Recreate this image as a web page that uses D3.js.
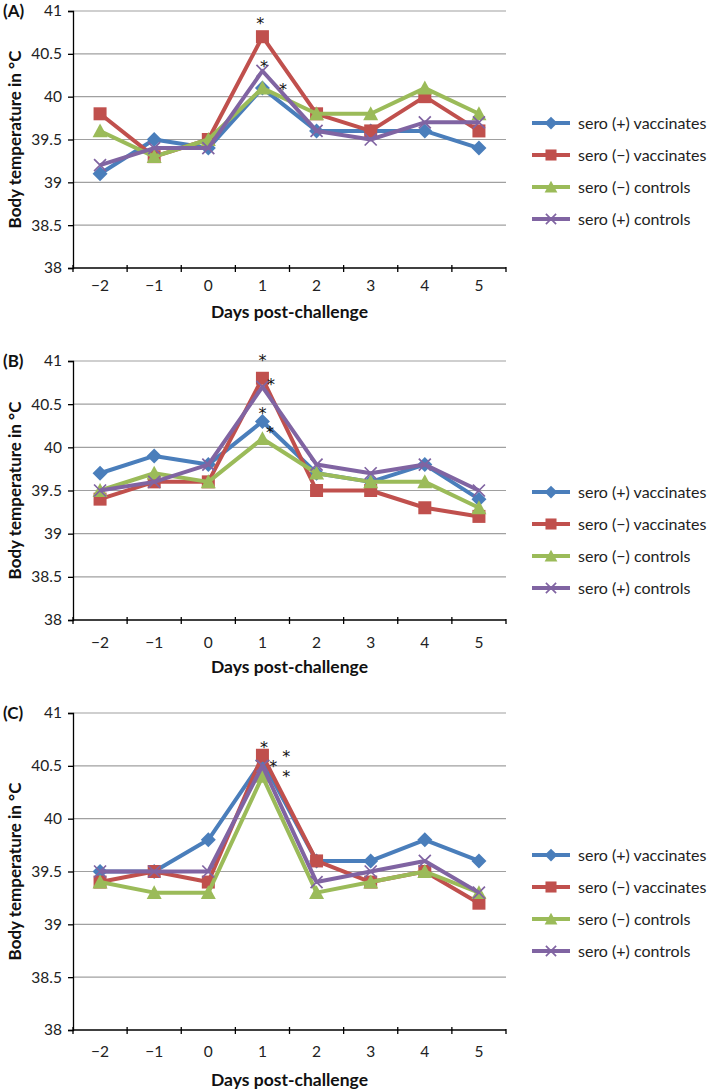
<!DOCTYPE html>
<html>
<head>
<meta charset="utf-8">
<script src="https://cdn.jsdelivr.net/npm/d3@7/dist/d3.min.js"></script>
<style>
  html, body { margin: 0; padding: 0; background: #fff; }
  svg { display: block; font-family: Lato, "Noto Sans", sans-serif; }
</style>
</head>
<body>
<svg id="chart" width="709" height="1091"></svg>
<script>
// ---------- data ----------
const days = [-2, -1, 0, 1, 2, 3, 4, 5];
const dayLabels = ["\u22122", "\u22121", "0", "1", "2", "3", "4", "5"];
const yTicks = [38, 38.5, 39, 39.5, 40, 40.5, 41];
const seriesNames = ["sero (+) vaccinates", "sero (\u2212) vaccinates", "sero (\u2212) controls", "sero (+) controls"];
const seriesColors = ["#4a7ebb", "#c0504d", "#9bbb59", "#8064a2"];
const seriesMarkers = ["diamond", "square", "triangle", "cross"];

// Panel A
const A_seroPosVacc = [39.1, 39.5, 39.4, 40.1, 39.6, 39.6, 39.6, 39.4];
const A_seroNegVacc = [39.8, 39.3, 39.5, 40.7, 39.8, 39.6, 40.0, 39.6];
const A_seroNegCtrl = [39.6, 39.3, 39.5, 40.1, 39.8, 39.8, 40.1, 39.8];
const A_seroPosCtrl = [39.2, 39.4, 39.4, 40.3, 39.6, 39.5, 39.7, 39.7];
const A_asterisks = [[0.96, 40.89], [1.03, 40.39], [1.38, 40.13]];

// Panel B
const B_seroPosVacc = [39.7, 39.9, 39.8, 40.3, 39.7, 39.6, 39.8, 39.4];
const B_seroNegVacc = [39.4, 39.6, 39.6, 40.8, 39.5, 39.5, 39.3, 39.2];
const B_seroNegCtrl = [39.5, 39.7, 39.6, 40.1, 39.7, 39.6, 39.6, 39.3];
const B_seroPosCtrl = [39.5, 39.6, 39.8, 40.7, 39.8, 39.7, 39.8, 39.5];
const B_asterisks = [[1.0, 41.05], [1.16, 40.77], [1.0, 40.43], [1.14, 40.21]];

// Panel C
const C_seroPosVacc = [39.5, 39.5, 39.8, 40.55, 39.6, 39.6, 39.8, 39.6];
const C_seroNegVacc = [39.4, 39.5, 39.4, 40.6, 39.6, 39.4, 39.5, 39.2];
const C_seroNegCtrl = [39.4, 39.3, 39.3, 40.4, 39.3, 39.4, 39.5, 39.3];
const C_seroPosCtrl = [39.5, 39.5, 39.5, 40.5, 39.4, 39.5, 39.6, 39.3];
const C_asterisks = [[1.03, 40.71], [1.44, 40.62], [1.2, 40.53], [1.44, 40.43]];

const panels = [
  { label: "(A)", series: [A_seroPosVacc, A_seroNegVacc, A_seroNegCtrl, A_seroPosCtrl], stars: A_asterisks,
    top: 11, bottom: 268, tickY: 286, titleY: 312, legendY: 123 },
  { label: "(B)", series: [B_seroPosVacc, B_seroNegVacc, B_seroNegCtrl, B_seroPosCtrl], stars: B_asterisks,
    top: 361, bottom: 620, tickY: 643, titleY: 667, legendY: 492 },
  { label: "(C)", series: [C_seroPosVacc, C_seroNegVacc, C_seroNegCtrl, C_seroPosCtrl], stars: C_asterisks,
    top: 713, bottom: 1030, tickY: 1052, titleY: 1080, legendY: 855 }
];

// ---------- drawing ----------
const svg = d3.select("#chart");
const left = 73, right = 506;
const x = d3.scaleLinear().domain([-2.5, 5.5]).range([left, right]);

function drawMarker(g, type, color, cx, cy, scale) {
  const s = scale || 1;
  if (type === "diamond") {
    const r = 7.5 * s;
    g.append("path").attr("d", `M${cx},${cy - r}L${cx + r},${cy}L${cx},${cy + r}L${cx - r},${cy}Z`).attr("fill", color);
  } else if (type === "square") {
    const r = 6.5 * s;
    g.append("rect").attr("x", cx - r).attr("y", cy - r).attr("width", 2 * r).attr("height", 2 * r).attr("fill", color);
  } else if (type === "triangle") {
    const r = 7.5 * s;
    g.append("path").attr("d", `M${cx},${cy - r}L${cx + r},${cy + r * 0.85}L${cx - r},${cy + r * 0.85}Z`).attr("fill", color);
  } else {
    const r = 6 * s;
    g.append("path").attr("d", `M${cx - r},${cy - r}L${cx + r},${cy + r}M${cx - r},${cy + r}L${cx + r},${cy - r}`)
      .attr("stroke", color).attr("stroke-width", 1.7).attr("fill", "none");
  }
}

panels.forEach(p => {
  const y = d3.scaleLinear().domain([38, 41]).range([p.bottom, p.top]);
  const g = svg.append("g");

  // gridlines
  g.selectAll(".grid").data(yTicks.filter(t => t > 38)).enter().append("line")
    .attr("x1", left).attr("x2", right)
    .attr("y1", d => y(d)).attr("y2", d => y(d))
    .attr("stroke", "#a0a0a0").attr("stroke-width", 1.2);

  // y axis
  const yAxis = d3.axisLeft(y).tickValues(yTicks).tickSize(5).tickPadding(6)
    .tickFormat(d => String(d));
  const ya = g.append("g").attr("transform", `translate(${left},0)`).call(yAxis);
  ya.select(".domain").attr("stroke", "#000").attr("stroke-width", 1.3);
  ya.selectAll(".tick line").attr("stroke", "#000").attr("stroke-width", 1.3);
  ya.selectAll(".tick text").attr("font-size", 15.5).attr("font-family", "Lato, sans-serif").attr("fill", "#222");

  // x axis line + boundary ticks
  g.append("line").attr("x1", left).attr("x2", right).attr("y1", p.bottom).attr("y2", p.bottom)
    .attr("stroke", "#000").attr("stroke-width", 1.3);
  const bounds = d3.range(-2.5, 6, 1);
  g.selectAll(".xt").data(bounds).enter().append("line")
    .attr("x1", d => x(d)).attr("x2", d => x(d))
    .attr("y1", d => d === 5.5 ? p.bottom - 1 : p.bottom - 3).attr("y2", p.bottom + 4)
    .attr("stroke", "#000").attr("stroke-width", 1.3);
  g.selectAll(".xl").data(days).enter().append("text")
    .attr("x", d => x(d)).attr("y", p.tickY).attr("dy", "0.35em")
    .attr("text-anchor", "middle").attr("font-size", 15.5).attr("fill", "#222")
    .text((d, i) => dayLabels[i]);

  // titles
  g.append("text").attr("x", (left + right) / 2).attr("y", p.titleY).attr("dy", "0.35em")
    .attr("text-anchor", "middle").attr("font-size", 17.5).attr("font-weight", "bold").attr("fill", "#111")
    .text("Days post-challenge");
  g.append("text")
    .attr("transform", `translate(15,${(p.top + p.bottom) / 2}) rotate(-90)`)
    .attr("dy", "0.35em").attr("text-anchor", "middle").attr("font-size", 17).attr("font-weight", "bold").attr("fill", "#111")
    .text("Body temperature in \u00B0C");
  g.append("text").attr("x", 3).attr("y", p.top).attr("dy", "0.35em")
    .attr("font-size", 17).attr("font-weight", "bold").attr("fill", "#111").text(p.label);

  // series
  const line = d3.line().x((d, i) => x(days[i])).y(d => y(d));
  p.series.forEach((vals, si) => {
    const sg = g.append("g");
    sg.append("path").datum(vals).attr("d", line)
      .attr("fill", "none").attr("stroke", seriesColors[si]).attr("stroke-width", 4)
      .attr("stroke-linejoin", "round");
    vals.forEach((v, i) => drawMarker(sg, seriesMarkers[si], seriesColors[si], x(days[i]), y(v)));
  });

  // asterisks
  g.selectAll(".star").data(p.stars).enter().append("text")
    .attr("x", d => x(d[0])).attr("y", d => y(d[1]) + 9)
    .attr("text-anchor", "middle").attr("font-family", "DejaVu Sans, sans-serif")
    .attr("font-size", 16).attr("fill", "#111").text("*");

  // legend
  seriesNames.forEach((name, si) => {
    const ly = p.legendY + si * 32;
    const lg = g.append("g");
    lg.append("line").attr("x1", 532).attr("x2", 570).attr("y1", ly).attr("y2", ly)
      .attr("stroke", seriesColors[si]).attr("stroke-width", 4);
    drawMarker(lg, seriesMarkers[si], seriesColors[si], 551, ly, 0.85);
    lg.append("text").attr("x", 578).attr("y", ly).attr("dy", "0.35em")
      .attr("font-size", 16).attr("fill", "#222").text(name);
  });
});
</script>
</body>
</html>
